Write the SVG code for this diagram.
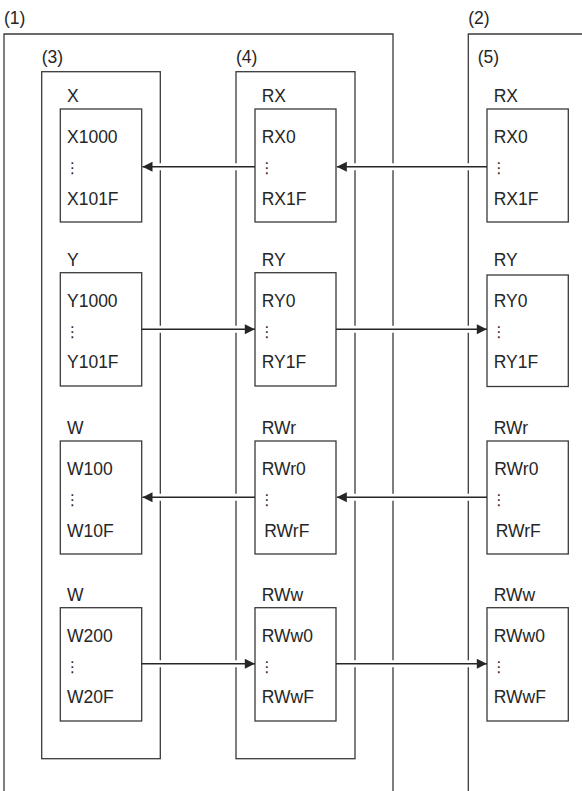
<svg xmlns="http://www.w3.org/2000/svg" width="582" height="791" viewBox="0 0 582 791">
<style>
.t{font-family:"Liberation Sans",Arial,sans-serif;font-size:17.5px;fill:#262626}
.d{font-family:"DejaVu Sans",sans-serif;font-size:15px;fill:#262626;text-anchor:middle}
.c{fill:none;stroke:#3a3a3a;stroke-width:1.3}
.b{fill:#fff;stroke:#3a3a3a;stroke-width:1.3}
.h{stroke:#fff;stroke-width:7;fill:none}
.a{stroke:#262626;stroke-width:1.4;fill:none;marker-end:url(#ah)}
</style>
<defs>
<marker id="ah" markerUnits="userSpaceOnUse" markerWidth="12" markerHeight="12" refX="11" refY="6" orient="auto">
<path d="M1,1 L11,6 L1,11 Z" fill="#262626"/>
</marker>
</defs>
<rect width="582" height="791" fill="#fff"/>
<g id="n1"><path class="c" d="M4,795 V34 H393 V795"/><text class="t" x="4" y="24">(1)</text></g>
<g id="n2"><path class="c" d="M468.3,795 V34 H590"/><text class="t" x="468.3" y="24">(2)</text><text class="t" x="477.7" y="63">(5)</text></g>
<g id="n3"><rect class="c" x="41.7" y="71.7" width="118.6" height="687"/><text class="t" x="41.7" y="63">(3)</text></g>
<g id="n4"><rect class="c" x="236" y="71.7" width="119" height="687"/><text class="t" x="236" y="63">(4)</text></g>

<g id="x"><rect class="b" x="60.3" y="109" width="81.4" height="113"/><text class="t" x="67" y="102">X</text><text class="t" x="67" y="143">X1000</text><text class="d" x="72.5" y="173">⋮</text><text class="t" x="67" y="205">X101F</text></g>
<g id="rx4"><rect class="b" x="255" y="109" width="81" height="113"/><text class="t" x="261.7" y="102">RX</text><text class="t" x="261.7" y="143">RX0</text><text class="d" x="267" y="173">⋮</text><text class="t" x="261.7" y="205">RX1F</text></g>
<g id="rx5"><rect class="b" x="487" y="109" width="81.3" height="113"/><text class="t" x="493.7" y="102">RX</text><text class="t" x="493.7" y="143">RX0</text><text class="d" x="499" y="173">⋮</text><text class="t" x="493.7" y="205">RX1F</text></g>

<g id="y"><rect class="b" x="60.3" y="272.7" width="81.4" height="113.3"/><text class="t" x="67" y="265.5">Y</text><text class="t" x="67" y="306.7">Y1000</text><text class="d" x="72.5" y="336.7">⋮</text><text class="t" x="67" y="367.7">Y101F</text></g>
<g id="ry4"><rect class="b" x="255" y="272.7" width="81" height="113.3"/><text class="t" x="261.7" y="265.5">RY</text><text class="t" x="261.7" y="306.7">RY0</text><text class="d" x="267" y="336.7">⋮</text><text class="t" x="261.7" y="367.7">RY1F</text></g>
<g id="ry5"><rect class="b" x="487" y="275" width="81.3" height="111.5"/><text class="t" x="493.7" y="265.5">RY</text><text class="t" x="493.7" y="306.7">RY0</text><text class="d" x="499" y="336.7">⋮</text><text class="t" x="493.7" y="367.7">RY1F</text></g>

<g id="w1"><rect class="b" x="60.3" y="441" width="81.4" height="113"/><text class="t" x="67" y="434">W</text><text class="t" x="67" y="475">W100</text><text class="d" x="72.5" y="505">⋮</text><text class="t" x="67" y="537">W10F</text></g>
<g id="rwr4"><rect class="b" x="255" y="441" width="81" height="113"/><text class="t" x="261.7" y="434">RWr</text><text class="t" x="261.7" y="475">RWr0</text><text class="d" x="267" y="505">⋮</text><text class="t" x="264.3" y="537">RWrF</text></g>
<g id="rwr5"><rect class="b" x="487" y="441" width="81.3" height="113"/><text class="t" x="493.7" y="434">RWr</text><text class="t" x="494.3" y="475">RWr0</text><text class="d" x="499" y="505">⋮</text><text class="t" x="495.7" y="537">RWrF</text></g>

<g id="w2"><rect class="b" x="60.3" y="607.7" width="81.4" height="113.3"/><text class="t" x="67" y="600.5">W</text><text class="t" x="67" y="641.7">W200</text><text class="d" x="72.5" y="671.5">⋮</text><text class="t" x="67" y="703">W20F</text></g>
<g id="rww4"><rect class="b" x="255" y="607.7" width="81" height="113.3"/><text class="t" x="261.7" y="600.5">RWw</text><text class="t" x="261.7" y="641.7">RWw0</text><text class="d" x="267" y="671.5">⋮</text><text class="t" x="261.7" y="703">RWwF</text></g>
<g id="rww5"><rect class="b" x="487" y="607.7" width="81.3" height="113.3"/><text class="t" x="493.7" y="600.5">RWw</text><text class="t" x="493.7" y="641.7">RWw0</text><text class="d" x="499" y="671.5">⋮</text><text class="t" x="493.7" y="703">RWwF</text></g>

<g id="connectors">
<path class="h" d="M254,166.7 H153 M486,166.7 H347 M143,329.3 H244 M337,329.3 H476 M254,497.3 H153 M486,497.3 H347 M143,663.7 H244 M337,663.7 H476"/>
<path class="a" d="M255,166.7 H142.5"/>
<path class="a" d="M487,166.7 H336.8"/>
<path class="a" d="M141.7,329.3 H254.8"/>
<path class="a" d="M336,329.3 H486.8"/>
<path class="a" d="M255,497.3 H142.5"/>
<path class="a" d="M487,497.3 H336.8"/>
<path class="a" d="M141.7,663.7 H254.8"/>
<path class="a" d="M336,663.7 H486.8"/>
</g>
</svg>
